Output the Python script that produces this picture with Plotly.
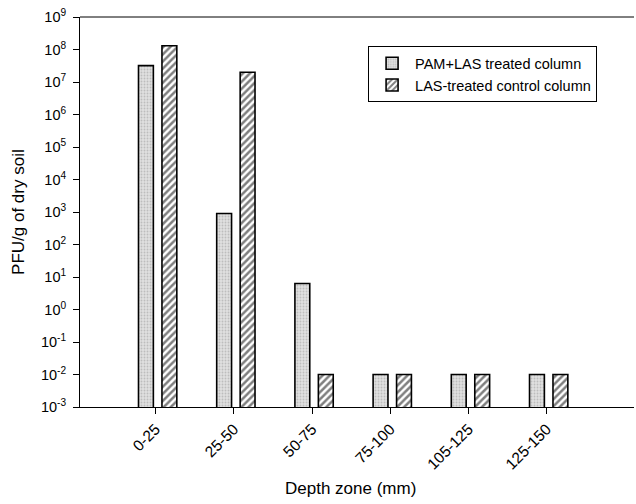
import plotly.graph_objects as go

categories = ["0-25", "25-50", "50-75", "75-100", "105-125", "125-150"]
pam_las = [3.2e7, 9.0e2, 6.3, 0.01, 0.01, 0.01]
las_control = [1.3e8, 2.0e7, 0.01, 0.01, 0.01, 0.01]
series_names = ["PAM+LAS treated column", "LAS-treated control column"]
y_exponents = list(range(-3, 10))

FONT = "Liberation Sans, Arial, sans-serif"

fig = go.Figure()
fig.add_trace(go.Bar(
    x=categories, y=pam_las, name=series_names[0],
    width=0.19, offset=-0.22,
    marker=dict(color="#d9d9d9", line=dict(color="black", width=1.6),
                pattern=dict(shape=".", fgcolor="#9a9a9a", bgcolor="#e0e0e0",
                             size=3, solidity=0.3)),
))
fig.add_trace(go.Bar(
    x=categories, y=las_control, name=series_names[1],
    width=0.19, offset=0.08,
    marker=dict(color="white", line=dict(color="black", width=1.6),
                pattern=dict(shape="/", fgcolor="black", bgcolor="white",
                             size=5, solidity=0.5)),
))

fig.update_layout(
    width=636, height=504,
    margin=dict(l=80, r=2, t=17, b=97),
    paper_bgcolor="white", plot_bgcolor="white",
    font=dict(family=FONT, size=14, color="black"),
    showlegend=True,
    legend=dict(x=0.52, y=0.925, xanchor="left", yanchor="top",
                bgcolor="white", bordercolor="black", borderwidth=1,
                font=dict(size=14.5, family=FONT), tracegroupgap=6,
                itemwidth=36),
    xaxis=dict(type="category", range=[-0.968, 6.116],
               showline=True, linecolor="black", linewidth=1,
               ticks="outside", ticklen=6, tickcolor="black",
               tickangle=-45, tickfont=dict(size=15.5), showgrid=False),
    yaxis=dict(type="log", range=[-3, 9],
               showline=True, linecolor="black", linewidth=1,
               ticks="outside", ticklen=6, tickcolor="black",
               tickvals=[10.0 ** e for e in y_exponents],
               ticktext=[f"10<sup>{e}</sup>" for e in y_exponents],
               tickfont=dict(size=14.5), ticklabelstandoff=4,
               showgrid=False, zeroline=False),
    shapes=[dict(type="line", xref="paper", yref="paper", x0=0, x1=1, y0=1, y1=1,
                 line=dict(color="black", width=1))],
    annotations=[
        dict(text="PFU/g of dry soil", xref="paper", yref="paper",
             x=-0.112, y=0.5, xanchor="center", yanchor="middle",
             textangle=-90, showarrow=False, font=dict(size=17)),
        dict(text="Depth zone (mm)", xref="paper", yref="paper",
             x=0.488, y=-0.208, xanchor="center", yanchor="middle",
             showarrow=False, font=dict(size=17)),
    ],
)

fig.write_html("out.html")
